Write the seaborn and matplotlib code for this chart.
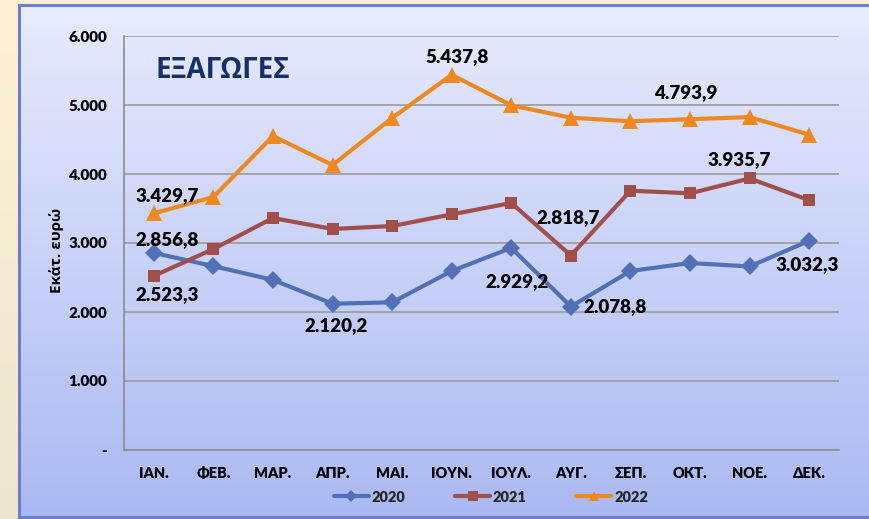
import numpy as np
import pandas as pd
import matplotlib
matplotlib.use("Agg")
import matplotlib.pyplot as plt
import matplotlib.colors as mcolors
import seaborn as sns

months = ["ΙΑΝ.", "ΦΕΒ.", "ΜΑΡ.", "ΑΠΡ.", "ΜΑΙ.", "ΙΟΥΝ.", "ΙΟΥΛ.", "ΑΥΓ.", "ΣΕΠ.", "ΟΚΤ.", "ΝΟΕ.", "ΔΕΚ."]
years = ["2020", "2021", "2022"]
v2020 = [2856.8, 2665, 2465, 2120.2, 2140, 2594, 2929.2, 2078.8, 2594, 2710, 2660, 3032.3]
v2021 = [2523.3, 2913, 3362, 3203, 3246, 3415, 3580, 2818.7, 3758, 3720, 3935.7, 3620]
v2022 = [3429.7, 3667, 4550, 4130, 4812, 5437.8, 4995, 4816, 4765, 4793.9, 4825, 4570]
yticks = [0, 1000, 2000, 3000, 4000, 5000, 6000]
ytick_labels = ["-", "1.000", "2.000", "3.000", "4.000", "5.000", "6.000"]
title = "ΕΞΑΓΩΓΕΣ"
ylabel = "Εκάτ. ευρώ"

# labelled points: (series, month index, text)
labels = [
    ("2022", 0, "3.429,7"), ("2020", 0, "2.856,8"), ("2021", 0, "2.523,3"),
    ("2020", 3, "2.120,2"), ("2022", 5, "5.437,8"), ("2020", 6, "2.929,2"),
    ("2021", 7, "2.818,7"), ("2020", 7, "2.078,8"), ("2022", 9, "4.793,9"),
    ("2021", 10, "3.935,7"), ("2020", 11, "3.032,3"),
]
label_offsets = {  # pixel offsets (dx, dy) of the label centre from the point
    ("2022", 0): (13, 18), ("2020", 0): (13, 13), ("2021", 0): (13, -19),
    ("2020", 3): (4, -22), ("2022", 5): (5, 18), ("2020", 6): (6, -34),
    ("2021", 7): (-3, 38), ("2020", 7): (44, 0), ("2022", 9): (-4, 27),
    ("2021", 10): (-10, 19), ("2020", 11): (-2, -24),
}

sns.set_theme(style="white")
plt.rcParams["font.family"] = ["Lato", "Noto Sans", "DejaVu Sans"]
plt.rcParams["font.weight"] = "bold"

W, H = 869, 519
fig = plt.figure(figsize=(W / 100, H / 100), dpi=100)

# background: cream gradient over whole figure
bg = fig.add_axes([0, 0, 1, 1], zorder=-10)
c1, c2 = np.array(mcolors.to_rgb("#FEF0D4")), np.array(mcolors.to_rgb("#EDE6CF"))
t = np.linspace(0, 1, 256)[:, None]
bg.imshow((c1 * (1 - t) + c2 * t)[:, None, :], aspect="auto", extent=[0, 1, 0, 1])
bg.set_axis_off()

# chart panel with blue gradient
px0, py0, py1 = 19, 5, 517
panel = fig.add_axes([px0 / W, 1 - py1 / H, (W - px0 + 10) / W, (py1 - py0) / H], zorder=-5)
p1, p2 = np.array(mcolors.to_rgb("#E7EBFD")), np.array(mcolors.to_rgb("#ABB9F2"))
panel.imshow((p1 * (1 - t) + p2 * t)[:, None, :], aspect="auto", extent=[0, 1, 0, 1])
panel.set_xticks([]); panel.set_yticks([])
for s in panel.spines.values():
    s.set_color("#6A80C6"); s.set_linewidth(2.2)

# main axes
ax0, ax1, ay0, ay1 = 124, 839, 36, 450
ax = fig.add_axes([ax0 / W, 1 - ay1 / H, (ax1 - ax0) / W, (ay1 - ay0) / H])
ax.patch.set_alpha(0)

df = pd.DataFrame({
    "month": months * 3,
    "value": v2020 + v2021 + v2022,
    "year": [years[0]] * 12 + [years[1]] * 12 + [years[2]] * 12,
})
df["pos"] = list(range(12)) * 3
palette = {"2020": "#5270B6", "2021": "#A04F4B", "2022": "#EE8922"}
markers = {"2020": "D", "2021": "s", "2022": "^"}
sizes_m = {"2020": 9.5, "2021": 8.5, "2022": 11}

sns.lineplot(data=df, x="pos", y="value", hue="year", style="year",
             markers=markers, dashes=False, palette=palette, linewidth=3,
             markersize=10, markeredgewidth=0, ax=ax, sort=False)
for line, y in zip(ax.get_lines()[:3], years):
    line.set_markersize(sizes_m[y])
    line.set_zorder(3)

ax.set_xlim(-0.5, 11.5)
ax.set_ylim(0, 6000)
ax.set_yticks(yticks)
ax.set_yticklabels(ytick_labels, fontsize=11, fontweight="heavy")
ax.set_xticks(range(12))
ax.set_xticklabels(months, fontsize=10.5, fontweight="heavy")
ax.set_xticks(np.arange(-0.5, 12, 1), minor=True)
ax.tick_params(axis="x", which="major", length=0, pad=12, colors="black")
ax.tick_params(axis="x", which="minor", length=6, width=1, color="#8C8C8C", direction="out")
ax.tick_params(axis="y", which="major", length=6, width=1, color="#8C8C8C", pad=6, labelcolor="black")
ax.grid(axis="y", color="#9A9A9A", linewidth=1.2)
ax.set_axisbelow(True)
for side in ["top", "right"]:
    ax.spines[side].set_visible(False)
for side in ["left", "bottom"]:
    ax.spines[side].set_color("#8C8C8C"); ax.spines[side].set_linewidth(1.2)
ax.set_xlabel("")
ax.set_ylabel("")
fig.text(57 / W, 1 - 250 / H, ylabel, rotation=90, ha="center", va="center",
         fontsize=11, fontweight="bold", color="black", family=["Open Sans", "Noto Sans"])

vals = {"2020": v2020, "2021": v2021, "2022": v2022}
for ser, i, txt in labels:
    dx, dy = label_offsets[(ser, i)]
    ax.annotate(txt, (i, vals[ser][i]), xytext=(dx * 0.72, dy * 0.72), textcoords="offset points",
                ha="center", va="center", fontsize=13.5, fontweight="heavy", color="black",
                annotation_clip=False)

ax.text(155 / W, 1 - 70 / H, title, transform=fig.transFigure, ha="left", va="center",
        fontsize=20, fontweight="bold", color="#17306C", family=["Open Sans", "Noto Sans"])

leg = ax.legend(loc="center", bbox_to_anchor=(491 / W, 1 - 497 / H),
                bbox_transform=fig.transFigure, ncol=3, frameon=False, fontsize=10.5,
                handlelength=2.4, columnspacing=3.4, handletextpad=0.2)
for txt in leg.get_texts():
    txt.set_fontweight("heavy")
for h in leg.legend_handles:
    h.set_markersize(6.5)

fig.savefig("out.png", dpi=100)
